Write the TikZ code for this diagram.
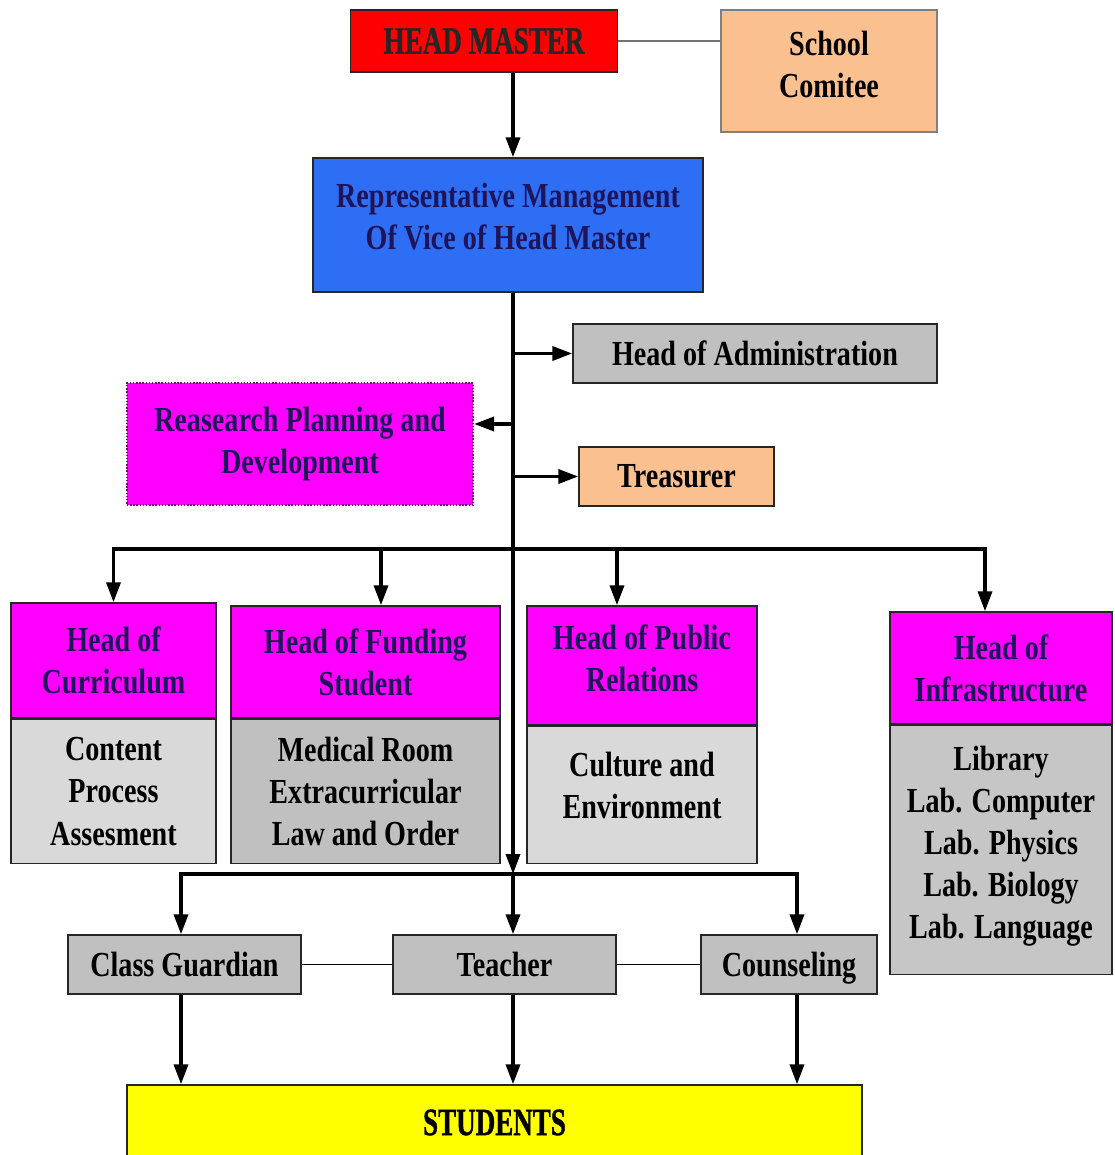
\documentclass[tikz,border=0pt]{standalone}
\usepackage{fontspec}
\setmainfont{Liberation Serif}[FakeStretch=0.8]
\newfontfamily\narrowfont{Liberation Serif}[FakeStretch=0.7,FakeBold=1]
\usepackage{tikz}
\usetikzlibrary{arrows.meta}
\definecolor{hmred}{RGB}{255,0,0}
\definecolor{repblue}{RGB}{45,110,245}
\definecolor{peach}{RGB}{250,192,144}
\definecolor{boxgray}{RGB}{192,192,192}
\definecolor{lightgray}{RGB}{217,217,217}
\definecolor{headpink}{RGB}{255,0,255}
\definecolor{stuyellow}{RGB}{255,255,0}
\definecolor{navy}{RGB}{30,20,90}
\definecolor{dotpurple}{RGB}{120,0,120}

\begin{document}
\begin{tikzpicture}[
  box/.style={draw=black!85, line width=0.8pt, align=center, inner sep=2pt,
    font=\fontsize{20}{24}\selectfont\bfseries},
  head/.style={box, fill=headpink, text=navy},
  arr/.style={line width=2pt, -{Triangle[length=4mm,width=2.8mm]}},
  link/.style={line width=0.8pt}
  ]
  \useasboundingbox (0,0) rectangle (22.28,-23.1);

  % top
  \node[box, fill=hmred, text=black!85, minimum width=5.34cm, minimum height=1.24cm,
    font=\narrowfont\fontsize{22}{26}\selectfont\bfseries] (hm) at (9.68,-0.82) {HEAD MASTER};
  \node[box, draw=black!50, fill=peach, text depth=0.28cm, minimum width=4.32cm, minimum height=2.44cm] (comm) at (16.58,-1.42) {School\\Comitee};
  \node[box, fill=repblue, text=navy, text depth=0.36cm, minimum width=7.80cm, minimum height=2.68cm] (rep) at (10.16,-4.50) {Representative Management\\Of Vice of Head Master};

  % staff
  \node[box, fill=boxgray, minimum width=7.28cm, minimum height=1.18cm] (admin) at (15.10,-7.07) {Head of Administration};
  \node[head, draw=dotpurple, densely dotted, line width=1.2pt, minimum width=6.92cm, minimum height=2.44cm] (rpd) at (6.00,-8.88) {Reasearch Planning and\\Development};
  \node[box, fill=peach, minimum width=3.90cm, minimum height=1.18cm] (treas) at (13.53,-9.53) {Treasurer};

  % heads with their units
  \node[head, minimum width=4.10cm, minimum height=2.30cm] (curH) at (2.27,-13.21) {Head of\\Curriculum};
  \node[box, fill=lightgray, minimum width=4.10cm, minimum height=2.88cm, anchor=north] (curB) at (curH.south) {Content\\Process\\Assesment};
  \node[head, minimum width=5.38cm, minimum height=2.24cm] (funH) at (7.31,-13.24) {Head of Funding\\Student};
  \node[box, fill=boxgray, minimum width=5.38cm, minimum height=2.88cm, anchor=north] (funB) at (funH.south) {Medical Room\\Extracurricular\\Law and Order};
  \node[head, text depth=0.28cm, minimum width=4.60cm, minimum height=2.38cm] (pubH) at (12.84,-13.31) {Head of Public\\Relations};
  \node[box, fill=lightgray, text depth=0.4cm, minimum width=4.60cm, minimum height=2.74cm, anchor=north] (pubB) at (pubH.south) {Culture and\\Environment};
  \node[head, minimum width=4.44cm, minimum height=2.24cm] (infH) at (20.02,-13.36) {Head of\\Infrastructure};
  \node[box, fill=boxgray!90!white, text depth=0.3cm, minimum width=4.44cm, minimum height=4.98cm, anchor=north] (infB) at (infH.south) {Library\\Lab. Computer\\Lab. Physics\\Lab. Biology\\Lab. Language};

  % bottom
  \node[box, fill=boxgray, minimum width=4.66cm, minimum height=1.18cm] (cg) at (3.69,-19.29) {Class Guardian};
  \node[box, fill=boxgray, minimum width=4.46cm, minimum height=1.18cm] (tea) at (10.09,-19.29) {Teacher};
  \node[box, fill=boxgray, text depth=0pt, minimum width=3.52cm, minimum height=1.18cm] (cou) at (15.78,-19.29) {Counseling};
  \node[box, fill=stuyellow, minimum width=14.70cm, minimum height=1.50cm,
    font=\narrowfont\fontsize{22}{26}\selectfont\bfseries] (stu) at (9.89,-22.45) {STUDENTS};

  % connectors
  \coordinate (bus1) at (10.26,-10.98);
  \coordinate (bus2) at (10.26,-17.48);
  \coordinate (rpdin) at ([yshift=0.4cm]rpd.east);
  \coordinate (couin) at ([xshift=0.16cm]cou.north);
  \coordinate (couout) at ([xshift=0.16cm]cou.south);

  \draw[link, black!55] (hm.east) -- (hm.east -| comm.west);
  \draw[arr] (hm.south -| bus1) -- (rep.north -| bus1);
  \draw[arr] (rep.south -| bus2) -- (bus2);
  \draw[arr] (admin.west -| bus1) -- (admin.west);
  \draw[arr] (rpdin -| bus1) -- (rpdin);
  \draw[arr] (treas.west -| bus1) -- (treas.west);

  \draw[arr] (bus1) -| (curH.north);
  \draw[arr] (bus1) -| ([xshift=0.31cm]funH.north);
  \draw[arr] (bus1) -| ([xshift=-0.5cm]pubH.north);
  \draw[arr] (bus1) -| ([xshift=-0.32cm]infH.north);

  \draw[arr] (bus2) -| ([xshift=-0.07cm]cg.north);
  \draw[arr] (bus2) -- (bus2 |- tea.north);
  \draw[arr] (bus2) -| (couin);
  \draw[link] (cg.east) -- (tea.west);
  \draw[link] (tea.east) -- (cou.west);

  \draw[arr] ([xshift=-0.07cm]cg.south) -- ([xshift=-0.07cm]cg.south |- stu.north);
  \draw[arr] (tea.south -| bus2) -- (stu.north -| bus2);
  \draw[arr] (couout) -- (couout |- stu.north);
\end{tikzpicture}
\end{document}
